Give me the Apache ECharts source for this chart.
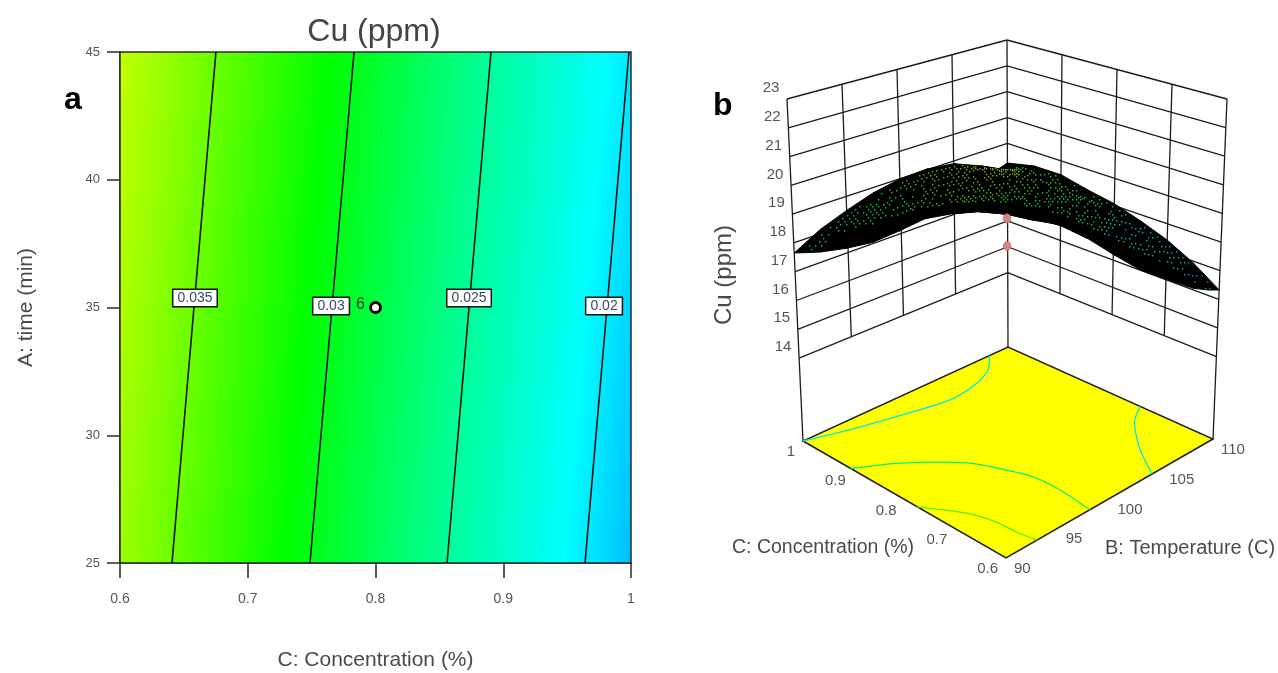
<!DOCTYPE html>
<html>
<head>
<meta charset="utf-8">
<script src="https://cdn.jsdelivr.net/npm/echarts@6/dist/echarts.min.js"></script>
<style>html,body{margin:0;padding:0;background:#fff}#c{width:1278px;height:673px}</style>
</head>
<body>
<div id="c"></div>
<script>
// ---------- panel a: data ----------
var concTicksA = [0.6, 0.7, 0.8, 0.9, 1];
var timeTicksA = [25, 30, 35, 40, 45];
var contour035 = [[0.6407, 25], [0.6751, 45]];
var contour030 = [[0.7487, 25], [0.7832, 45]];
var contour025 = [[0.8560, 25], [0.8904, 45]];
var contour020 = [[0.9640, 25], [0.9984, 45]];
var contourLabelText = ['0.035', '0.03', '0.025', '0.02'];
var contourLabelC = [0.6587, 0.7652, 0.8732, 0.9789];
var contourLabelA = [35.37, 35.06, 35.37, 35.06];
var designPoint = [0.8, 35];
var designPointCount = '6';
var fieldStopC = [0.5656, 0.6, 0.7291, 0.8379, 0.9468, 1];
var fieldStopColor = ['#c0ff00', '#9aff00', '#00ff00', '#00ff85', '#00ffff', '#00bfff'];

// ---------- panel b: data ----------
var tempTicks = [90, 95, 100, 105, 110];
var concTicks = [1, 0.9, 0.8, 0.7, 0.6];
var cuTicks = [14, 15, 16, 17, 18, 19, 20, 21, 22, 23];
var surfaceT = [90, 92.5, 95, 97.5, 100, 102.5, 105, 107.5, 109, 110];
var surfaceC = [1, 0.95, 0.9, 0.85, 0.8, 0.75, 0.7, 0.65, 0.6];
var cuT090 = [17.65, 18.10, 18.63, 19.22, 19.97, 20.75, 21.26, 21.67, 21.96];
var cuT092 = [18.15, 18.58, 19.02, 19.53, 20.13, 20.66, 21.01, 21.26, 21.40];
var cuT095 = [18.50, 18.91, 19.27, 19.66, 20.11, 20.49, 20.68, 20.80, 20.90];
var cuT097 = [18.81, 19.09, 19.37, 19.63, 19.94, 20.17, 20.21, 20.19, 20.10];
var cuT100 = [18.99, 19.20, 19.40, 19.53, 19.69, 19.75, 19.63, 19.47, 19.18];
var cuT102 = [19.03, 19.20, 19.32, 19.32, 19.35, 19.26, 18.99, 18.70, 18.28];
var cuT105 = [18.90, 19.05, 19.13, 19.05, 18.97, 18.76, 18.38, 17.99, 17.55];
var cuT107 = [18.48, 18.67, 18.77, 18.66, 18.53, 18.26, 17.83, 17.39, 16.83];
var cuT109 = [18.11, 18.50, 18.55, 18.32, 18.14, 17.85, 17.55, 17.10, 16.50];
var cuT110 = [18.24, 18.47, 18.48, 18.25, 18.07, 17.77, 17.42, 16.94, 16.33];
var surfaceCu = [cuT090, cuT092, cuT095, cuT097, cuT100, cuT102, cuT105, cuT107, cuT109, cuT110];
var sampleT = [100, 100];
var sampleC = [0.8, 0.8];
var sampleCu = [19.05, 18.08];
var floorCu = 11.12;
var floorLine1 = {color: '#00e6e6', T: [90, 93.84, 99.2, 102, 104.8, 106.6, 108.2], C: [1, 0.979, 0.955, 0.946, 0.955, 0.971, 1]};
var floorLine2 = {color: '#00f080', T: [90, 93.06, 96.46, 97.48, 98.4, 98.48, 98.1], C: [0.906, 0.871, 0.808, 0.769, 0.717, 0.666, 0.6]};
var floorLine3 = {color: '#50f000', T: [90, 91.9, 92.6, 92.7, 93], C: [0.775, 0.717, 0.672, 0.634, 0.6]};
var floorLine4 = {color: '#00e6e6', T: [110, 108.2, 106, 104.1], C: [0.742, 0.717, 0.663, 0.6]};
// colour of the surface speckle, as seen on the picture (index into speckleColor)
var speckleColor = ['#0078c8', '#00a4c8', '#00b8a8', '#10c038', '#50b800', '#88a800'];
var speckleT = [90, 95, 100, 105, 108, 110];
var speckleC = [1, 0.9, 0.8, 0.7, 0.6];
var speckleT090 = [1.5, 2.5, 3.0, 3.0, 3.0];
var speckleT095 = [2.8, 3.2, 3.5, 3.5, 3.0];
var speckleT100 = [3.8, 4.0, 3.5, 3.0, 2.0];
var speckleT105 = [4.8, 4.6, 2.4, 2.0, 1.2];
var speckleT108 = [5.0, 4.8, 2.3, 1.6, 0.8];
var speckleT110 = [2.2, 2.0, 1.6, 1.0, 0.0];
var speckleLevel = [speckleT090, speckleT095, speckleT100, speckleT105, speckleT108, speckleT110];

// ---------- panel b: view frame (page layout of the box corners) ----------
var floorL = [803, 441], floorF = [1006, 558], floorB = [1008, 347], floorR = [1213, 439];
var topL = [787, 99], topF = [1006, 180], topB = [1007, 40], topR = [1227, 99];
var GREY = '#4a4a4a', FONT = '"Liberation Sans", Arial, sans-serif';

function mix(a, b, t) { return a + (b - a) * t; }
function quad(L, F, B, R, u, v) {
  var res = [];
  for (var k = 0; k < 2; k++) {
    res.push(mix(mix(L[k], F[k], v), mix(B[k], R[k], v), u));
  }
  return res;
}
function project(T, C, Cu) {
  var u = (T - 90) / 20, v = (1 - C) / 0.4, h = (Cu - floorCu) / (23 - floorCu);
  var f = quad(floorL, floorF, floorB, floorR, u, v);
  var t = quad(topL, topF, topB, topR, u, v);
  return [mix(f[0], t[0], h), mix(f[1], t[1], h)];
}
function lookup(rowKeys, colKeys, table, T, C) {
  var i = 0, j = 0;
  while (i < rowKeys.length - 2 && T > rowKeys[i + 1]) i++;
  while (j < colKeys.length - 2 && C < colKeys[j + 1]) j++;
  var a = (T - rowKeys[i]) / (rowKeys[i + 1] - rowKeys[i]);
  var b = (C - colKeys[j]) / (colKeys[j + 1] - colKeys[j]);
  return mix(mix(table[i][j], table[i][j + 1], b), mix(table[i + 1][j], table[i + 1][j + 1], b), a);
}

// ---------- renderers ----------
function renderField(params, api) {
  var tl = api.coord([0.6, 45]), br = api.coord([1, 25]);
  var a = api.coord(contour030[0]), b = api.coord(contour030[1]);
  var tilt = (b[0] - a[0]) / (a[1] - b[1]);
  var s0 = api.coord([fieldStopC[0], 25]);
  var s1 = api.coord([fieldStopC[fieldStopC.length - 1], 25]);
  var d = (s1[0] - s0[0]) / (1 + tilt * tilt);
  var span = fieldStopC[fieldStopC.length - 1] - fieldStopC[0];
  var stops = fieldStopC.map(function (c, i) {
    return {offset: (c - fieldStopC[0]) / span, color: fieldStopColor[i]};
  });
  return {
    type: 'rect',
    shape: {x: tl[0], y: tl[1], width: br[0] - tl[0], height: br[1] - tl[1]},
    style: {
      fill: new echarts.graphic.LinearGradient(s0[0], s0[1], s0[0] + d, s0[1] + d * tilt, stops, true),
      stroke: '#2a2a2a', lineWidth: 1.5
    }
  };
}
function seg(api, a, b, w) {
  var p = api.coord(a), q = api.coord(b);
  return {type: 'line', shape: {x1: p[0], y1: p[1], x2: q[0], y2: q[1]}, style: {stroke: '#1c1c1c', lineWidth: w || 1.3}};
}
function label(api, at, text, size, align, dx, dy) {
  var p = api.coord(at);
  return {type: 'text', x: p[0] + dx, y: p[1] + dy, style: {text: text, fill: '#555', font: size + 'px ' + FONT, align: align, verticalAlign: 'middle'}};
}
function renderBox(params, api) {
  var kids = [];
  var zMin = cuTicks[0], zMax = cuTicks[cuTicks.length - 1];
  cuTicks.forEach(function (z) {
    kids.push(seg(api, project(90, 1, z), project(110, 1, z)));
    kids.push(seg(api, project(110, 1, z), project(110, 0.6, z)));
    kids.push(label(api, project(90, 1, z), String(z), 15, 'center', -16, -11));
  });
  tempTicks.forEach(function (t) {
    var edge = (t === 90 || t === 110);
    kids.push(seg(api, project(t, 1, edge ? floorCu : zMin), project(t, 1, zMax)));
  });
  concTicks.forEach(function (c) {
    if (c === 1) return;
    var edge = c === 0.6;
    kids.push(seg(api, project(110, c, edge ? floorCu : zMin), project(110, c, zMax)));
  });
  var poly = [floorL, floorF, floorR, floorB].map(function (p) { return api.coord(p); });
  kids.push({type: 'polygon', shape: {points: poly}, style: {fill: '#ffff00', stroke: '#1c1c1c', lineWidth: 1.5}});
  [floorLine1, floorLine2, floorLine3, floorLine4].forEach(function (l) {
    var pts = l.T.map(function (t, i) { return api.coord(project(t, l.C[i], floorCu)); });
    kids.push({type: 'polyline', shape: {points: pts, smooth: 0.25}, style: {fill: 'none', stroke: l.color, lineWidth: 1.3}});
  });
  concTicks.forEach(function (c) {
    kids.push(label(api, project(90, c, floorCu), String(c), 15, 'right', -8, 11));
  });
  tempTicks.forEach(function (t) {
    kids.push(label(api, project(t, 0.6, floorCu), String(t), 15, 'left', 8, 11));
  });
  return {type: 'group', children: kids};
}
function renderCell(params, api) {
  var i = api.value(0), j = api.value(1);
  var pts = [[i, j], [i + 1, j], [i + 1, j + 1], [i, j + 1]].map(function (n) {
    return api.coord(project(surfaceT[n[0]], surfaceC[n[1]], surfaceCu[n[0]][n[1]]));
  });
  return {type: 'polygon', shape: {points: pts}, style: {fill: '#000', stroke: '#000', lineWidth: 1}};
}
function renderDots(params, api) {
  var kids = [], N = 100;
  for (var i = 2; i < N; i += 2) {
    for (var j = 3; j < N; j += 3) {
      if (j > i + 5) continue;
      if (((i * 173 + j * 101) ^ (i * j * 37)) % 5 > 2) continue;
      var T = 90 + 20 * i / N, C = 1 - 0.4 * j / N;
      var z = lookup(surfaceT, surfaceC, surfaceCu, T, C);
      var level = lookup(speckleT, speckleC, speckleLevel, T, C);
      var p = api.coord(project(T, C, z));
      kids.push({type: 'rect', shape: {x: Math.round(p[0]), y: Math.round(p[1]), width: 1.4, height: 1.4},
        style: {fill: echarts.color.lerp(level / (speckleColor.length - 1), speckleColor)}});
    }
  }
  return {type: 'group', children: kids};
}
function renderSample(params, api) {
  var p = api.coord(project(api.value(0), api.value(1), api.value(2)));
  return {type: 'ellipse', shape: {cx: p[0], cy: p[1], rx: 3.8, ry: 4.4}, style: {fill: '#e08080', stroke: '#b06060', lineWidth: 0.6}};
}

var cells = [];
for (var i = 0; i < surfaceT.length - 1; i++) {
  for (var j = 0; j < surfaceC.length - 1; j++) cells.push([i, j]);
}
function contourSeries(d) {
  return {type: 'line', xAxisIndex: 0, yAxisIndex: 0, data: d, showSymbol: false, silent: true, z: 3,
    lineStyle: {color: '#111', width: 1.6}};
}
var fullGrid = {xAxisIndex: 1, yAxisIndex: 1, coordinateSystem: 'cartesian2d', silent: true, clip: false};

var chart = echarts.init(document.getElementById('c'), null, {renderer: 'canvas'});
chart.setOption({
  animation: false,
  backgroundColor: '#fff',
  textStyle: {fontFamily: FONT},
  grid: [
    {left: 120, top: 52, width: 511, height: 511, outerBoundsMode: 'none', containLabel: false},
    {left: 0, top: 0, width: 1278, height: 673, outerBoundsMode: 'none', containLabel: false}
  ],
  xAxis: [
    {gridIndex: 0, type: 'value', min: 0.6, max: 1, interval: 0.1,
      name: 'C: Concentration (%)', nameLocation: 'middle', nameGap: 87,
      nameTextStyle: {fontSize: 21, color: GREY},
      axisLine: {show: true, lineStyle: {color: '#2a2a2a', width: 1.5}},
      axisTick: {show: true, length: 15, lineStyle: {color: '#2a2a2a', width: 1.5}},
      axisLabel: {margin: 29, fontSize: 14, color: '#555',
        formatter: function (v) { return concTicksA.indexOf(+v.toFixed(1)) >= 0 ? String(+v.toFixed(1)) : ''; }},
      splitLine: {show: false}},
    {gridIndex: 1, type: 'value', min: 0, max: 1278, show: false}
  ],
  yAxis: [
    {gridIndex: 0, type: 'value', min: 25, max: 45, interval: 5,
      name: 'A: time (min)', nameLocation: 'middle', nameGap: 83,
      nameTextStyle: {fontSize: 21, color: GREY},
      axisLine: {show: true, lineStyle: {color: '#2a2a2a', width: 1.5}},
      axisTick: {show: true, length: 13, lineStyle: {color: '#2a2a2a', width: 1.5}},
      axisLabel: {margin: 20, fontSize: 13, color: '#555',
        formatter: function (v) { return timeTicksA.indexOf(v) >= 0 ? String(v) : ''; }},
      splitLine: {show: false}},
    {gridIndex: 1, type: 'value', min: 0, max: 673, inverse: true, show: false}
  ],
  graphic: [
    {type: 'text', x: 374, y: 32, style: {text: 'Cu (ppm)', font: '32px ' + FONT, fill: '#444', align: 'center', verticalAlign: 'middle'}},
    {type: 'text', x: 64, y: 84, style: {text: 'a', font: 'bold 32px ' + FONT, fill: '#000'}},
    {type: 'text', x: 713, y: 90, style: {text: 'b', font: 'bold 32px ' + FONT, fill: '#000'}},
    {type: 'text', x: 732, y: 538, style: {text: 'C: Concentration (%)', font: '19.5px ' + FONT, fill: GREY}},
    {type: 'text', x: 1105, y: 538, style: {text: 'B: Temperature (C)', font: '20px ' + FONT, fill: GREY}},
    {type: 'text', x: 724, y: 275, rotation: Math.PI / 2,
      style: {text: 'Cu (ppm)', font: '24px ' + FONT, fill: GREY, align: 'center', verticalAlign: 'middle'}}
  ],
  series: [
    {type: 'custom', xAxisIndex: 0, yAxisIndex: 0, coordinateSystem: 'cartesian2d', silent: true, clip: false, z: 1,
      renderItem: renderField, data: [[0.8, 35]]},
    contourSeries(contour035), contourSeries(contour030), contourSeries(contour025), contourSeries(contour020),
    {type: 'scatter', xAxisIndex: 0, yAxisIndex: 0, silent: true, z: 4, symbolSize: 1,
      itemStyle: {color: 'rgba(0,0,0,0)', opacity: 1},
      data: contourLabelText.map(function (t, i) { return {value: [contourLabelC[i], contourLabelA[i]], name: t}; }),
      label: {show: true, position: 'inside', formatter: '{b}', fontSize: 14, color: '#3a4a60',
        backgroundColor: '#fff', borderColor: '#111', borderWidth: 1.5, padding: [1, 4, 1, 4]}},
    {type: 'scatter', xAxisIndex: 0, yAxisIndex: 0, silent: true, z: 5, symbolSize: 10,
      itemStyle: {color: '#fff', borderColor: '#1a0505', borderWidth: 3, opacity: 1},
      data: [designPoint],
      label: {show: true, position: 'left', distance: 4, offset: [0, -3], formatter: designPointCount, fontSize: 16, color: '#333'}},
    Object.assign({type: 'custom', z: 1, renderItem: renderBox, data: [[0, 0]]}, fullGrid),
    Object.assign({type: 'custom', z: 2, renderItem: renderCell, data: cells}, fullGrid),
    Object.assign({type: 'custom', z: 3, renderItem: renderDots, data: [[0, 0]]}, fullGrid),
    Object.assign({type: 'custom', z: 4, renderItem: renderSample,
      data: sampleT.map(function (t, i) { return [t, sampleC[i], sampleCu[i]]; })}, fullGrid)
  ]
});
</script>
</body>
</html>
